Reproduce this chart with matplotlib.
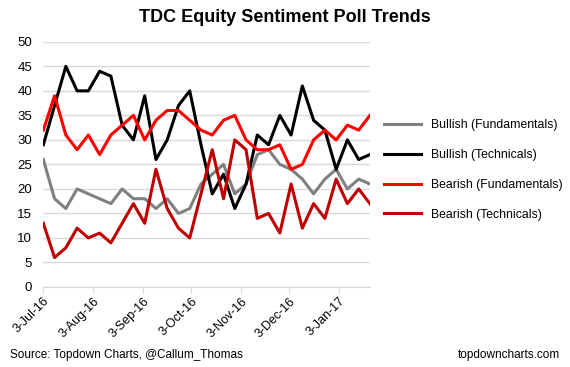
import pandas as pd
import numpy as np
import matplotlib.pyplot as plt

plt.rcParams['font.family'] = ['Liberation Sans', 'DejaVu Sans']

# weekly poll readings, starting 3-Jul-16
start = '2016-07-03'
n_weeks = 30

bull_fund = [26, 18, 16, 20, 19, 18, 17, 20, 18, 18, 16, 18, 15, 16, 21,
             23, 25, 19, 21, 27, 28, 25, 24, 22, 19, 22, 24, 20, 22, 21]
bull_tech = [29, 37, 45, 40, 40, 44, 43, 33, 30, 39, 26, 30, 37, 40, 29,
             19, 23, 16, 21, 31, 29, 35, 31, 41, 34, 32, 24, 30, 26, 27]
bear_fund = [32, 39, 31, 28, 31, 27, 31, 33, 35, 30, 34, 36, 36, 34, 32,
             31, 34, 35, 30, 28, 28, 29, 24, 25, 30, 32, 30, 33, 32, 35]
bear_tech = [13, 6, 8, 12, 10, 11, 9, 13, 17, 13, 24, 16, 12, 10, 19,
             28, 18, 30, 28, 14, 15, 11, 21, 12, 17, 14, 22, 17, 20, 17]

labels = ['Bullish (Fundamentals)', 'Bullish (Technicals)',
          'Bearish (Fundamentals)', 'Bearish (Technicals)']
colors = ['#808080', '#000000', '#ff0000', '#c00000']

dates = pd.date_range(start, periods=n_weeks, freq='7D')
df = pd.DataFrame({labels[0]: bull_fund, labels[1]: bull_tech,
                   labels[2]: bear_fund, labels[3]: bear_tech}, index=dates)

fig = plt.figure(figsize=(5.7, 3.67), dpi=100)
ax = fig.add_axes([0.076, 0.218, 0.573, 0.668])

for lab, col in zip(labels, colors):
    ax.plot(df.index, df[lab], color=col, lw=2.2, label=lab)

ax.set_ylim(0, 50)
ax.set_yticks(range(0, 51, 5))
ax.set_xlim(dates[0], dates[-1])
# ticks on the 3rd of each month
ticks = pd.date_range('2016-07-01', '2017-01-01', freq='MS') + pd.Timedelta(days=2)
ax.set_xticks(ticks)
ax.set_xticklabels([f"{t.day}-{t.strftime('%b-%y')}" for t in ticks],
                   rotation=45, ha='right', rotation_mode='anchor')

ax.grid(axis='y', color='#d9d9d9', lw=1)
ax.set_axisbelow(True)
for s in ['top', 'right', 'left']:
    ax.spines[s].set_visible(False)
ax.spines['bottom'].set_color('#d9d9d9')
ax.tick_params(axis='y', length=0, labelsize=9.5, pad=8)
ax.tick_params(axis='x', length=4, color='#d9d9d9', labelsize=9, pad=2)

ax.legend(loc='center left', bbox_to_anchor=(0.655, 0.537), bbox_transform=fig.transFigure,
          frameon=False, fontsize=8.8, handlelength=3.0, labelspacing=1.45, handletextpad=0.8)

fig.text(0.5, 0.952, 'TDC Equity Sentiment Poll Trends', ha='center', va='center',
         fontsize=13, fontweight='bold')
fig.text(0.018, 0.033, 'Source: Topdown Charts, @Callum_Thomas', ha='left', va='center', fontsize=8.5)
fig.text(0.982, 0.033, 'topdowncharts.com', ha='right', va='center', fontsize=8.5)

fig.savefig('out.png', dpi=100)
